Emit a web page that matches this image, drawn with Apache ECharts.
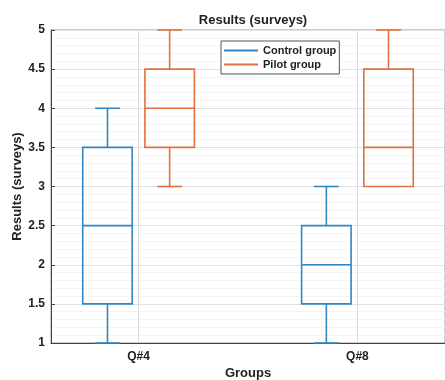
<!DOCTYPE html>
<html><head><meta charset="utf-8">
<script src="https://cdn.jsdelivr.net/npm/echarts@6/dist/echarts.min.js"></script>
<style>html,body{margin:0;padding:0;background:#fff}#c{width:445px;height:380px}</style>
</head><body><div id="c"></div>
<script>
// Data
var groups = ['Q#4', 'Q#8'];
var groupPos = [1, 2];
// [min, Q1, median, Q3, max]
var controlStats = [[1, 1.5, 2.5, 3.5, 4], [1, 1.5, 2, 2.5, 3]];
var pilotStats = [[3, 3.5, 4, 4.5, 5], [3, 3, 3.5, 4.5, 5]];
var yTicks = [1, 1.5, 2, 2.5, 3, 3.5, 4, 4.5, 5];

var BLUE = '#3287c2', ORANGE = '#e2703f';
var FONT = '"Liberation Sans", Arial, sans-serif';
var OFFSET = 0.142, BOXW = 0.226, CAPW = 0.113;

function makeData(stats, off) {
  return stats.map(function (s, i) { return [groupPos[i] + off].concat(s); });
}
function renderBox(params, api) {
  var x = api.value(0);
  var mn = api.value(1), q1 = api.value(2), md = api.value(3), q3 = api.value(4), mx = api.value(5);
  var pL = api.coord([x - BOXW / 2, q3]), pR = api.coord([x + BOXW / 2, q1]);
  var c = api.coord([x, md]);
  var capL = api.coord([x - CAPW / 2, mx])[0], capR = api.coord([x + CAPW / 2, mx])[0];
  var yMax = api.coord([x, mx])[1], yMin = api.coord([x, mn])[1];
  var col = api.visual('color');
  var st = { stroke: col, lineWidth: 1.6, fill: null };
  var ch = [
    { type: 'rect', shape: { x: pL[0], y: pL[1], width: pR[0] - pL[0], height: pR[1] - pL[1] }, style: st },
    { type: 'line', shape: { x1: pL[0], y1: c[1], x2: pR[0], y2: c[1] }, style: st }
  ];
  if (mx > q3) {
    ch.push({ type: 'line', shape: { x1: c[0], y1: yMax, x2: c[0], y2: pL[1] }, style: st });
    ch.push({ type: 'line', shape: { x1: capL, y1: yMax, x2: capR, y2: yMax }, style: st });
  }
  if (mn < q1) {
    ch.push({ type: 'line', shape: { x1: c[0], y1: yMin, x2: c[0], y2: pR[1] }, style: st });
    ch.push({ type: 'line', shape: { x1: capL, y1: yMin, x2: capR, y2: yMin }, style: st });
  }
  return { type: 'group', children: ch };
}

var chart = echarts.init(document.getElementById('c'));
chart.setOption({
  animation: false,
  backgroundColor: '#fff',
  title: { text: 'Results (surveys)', left: 248, top: 9, textAlign: 'center',
    textStyle: { fontFamily: FONT, fontSize: 13, fontWeight: 'bold', color: '#222' } },
  legend: {
    orient: 'vertical', left: 221, top: 41, itemGap: 3, itemWidth: 34, itemHeight: 2,
    padding: [4, 3, 4, 3], borderColor: '#555', borderWidth: 1, backgroundColor: '#fff',
    icon: 'rect',
    textStyle: { fontFamily: FONT, fontSize: 11, fontWeight: 'bold', color: '#222' },
    data: ['Control group', 'Pilot group']
  },
  grid: { left: 51, top: 30, right: 0, bottom: 37, outerBoundsMode: 'none', containLabel: false,
    show: true, borderColor: '#999', borderWidth: 1 },
  xAxis: [{
    type: 'value', min: 0.6, max: 2.4, interval: 0.2,
    name: 'Groups', nameLocation: 'middle', nameGap: 24, nameMoveOverlap: false,
    nameTextStyle: { fontFamily: FONT, fontSize: 13, fontWeight: 'bold', color: '#222' },
    axisLine: { show: true, lineStyle: { color: '#444' } },
    axisTick: { show: true, inside: true, length: 4, customValues: groupPos, lineStyle: { color: '#444' } },
    axisLabel: { customValues: groupPos, margin: 8, fontFamily: FONT, fontSize: 12, fontWeight: 'bold', color: '#222',
      formatter: function (v) { var i = groupPos.indexOf(Math.round(v * 10) / 10); return i >= 0 ? groups[i] : ''; } },
    splitLine: { show: true, lineStyle: { color: '#efefef', width: 1 } }
  }],
  yAxis: {
    type: 'value', min: 1, max: 5, interval: 0.5,
    name: 'Results (surveys)', nameLocation: 'middle', nameGap: 27, nameMoveOverlap: false,
    nameTextStyle: { fontFamily: FONT, fontSize: 13, fontWeight: 'bold', color: '#222' },
    axisLine: { show: true, lineStyle: { color: '#444' } },
    axisTick: { show: true, inside: true, length: 4, lineStyle: { color: '#444' } },
    axisLabel: { margin: 6, fontFamily: FONT, fontSize: 12, fontWeight: 'bold', color: '#222',
      formatter: function (v) { return yTicks.indexOf(v) >= 0 ? String(v) : ''; } },
    splitLine: { show: true, lineStyle: { color: '#e2e2e2' } },
    minorTick: { show: false, splitNumber: 5 },
    minorSplitLine: { show: true, lineStyle: { color: '#f4f4f4' } }
  },
  series: [
    { name: 'Control group', type: 'custom', renderItem: renderBox, itemStyle: { color: BLUE },
      encode: { x: 0, y: [1, 2, 3, 4, 5] }, data: makeData(controlStats, -OFFSET), clip: false,
      markLine: { silent: true, symbol: 'none', label: { show: false },
        lineStyle: { color: '#dcdcdc', type: 'solid', width: 1 },
        data: groupPos.map(function (p) { return { xAxis: p }; }) } },
    { name: 'Pilot group', type: 'custom', renderItem: renderBox, itemStyle: { color: ORANGE },
      encode: { x: 0, y: [1, 2, 3, 4, 5] }, data: makeData(pilotStats, OFFSET), clip: false }
  ]
});
</script></body></html>
